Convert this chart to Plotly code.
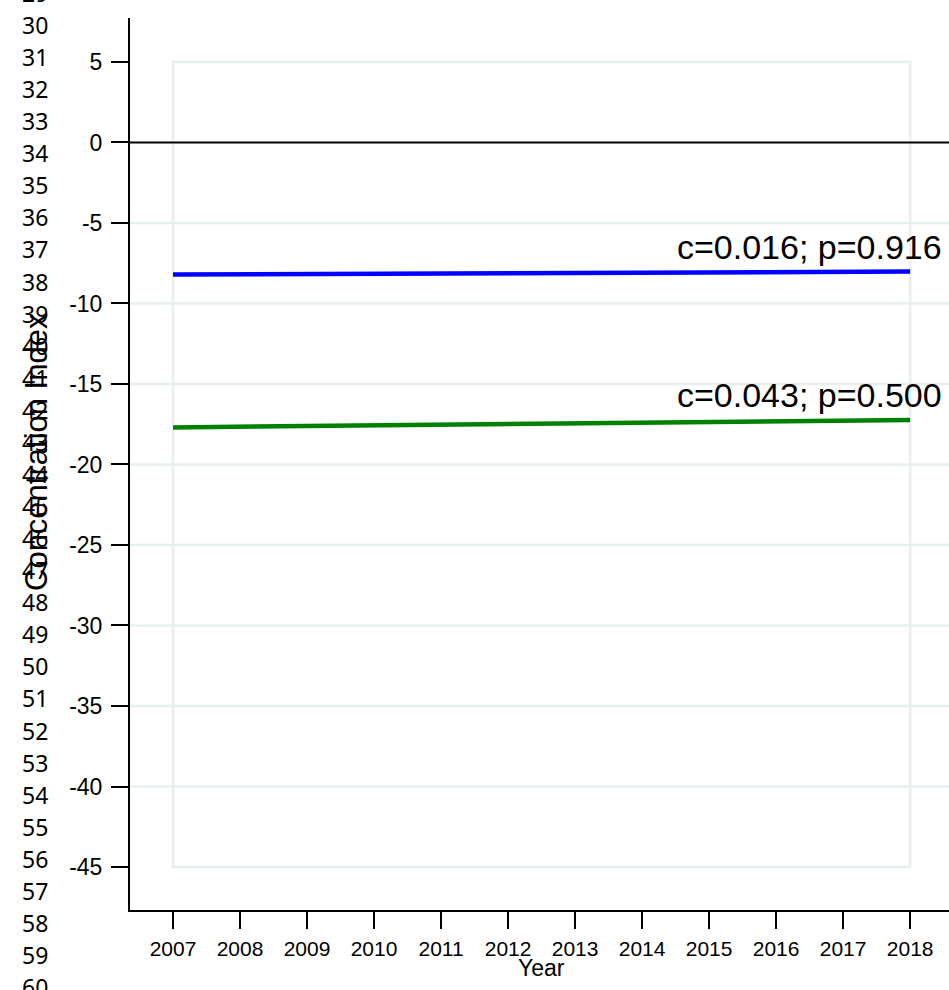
import plotly.graph_objects as go

# ---- data ----
years = list(range(2007, 2019))
fit_years = [2007, 2018]
blue_fit = [-8.20, -8.02]
green_fit = [-17.70, -17.23]
blue_label = "c=0.016; p=0.916"
green_label = "c=0.043; p=0.500"
y_ticks = [5, 0, -5, -10, -15, -20, -25, -30, -35, -40, -45]
grid_vals = [-5, -10, -15, -20, -25, -30, -35, -40]
line_numbers = list(range(29, 61))

W, H = 949, 990
L, R, T, B = 130, 0, 18, 80
plot_w = W - L - R
plot_h = H - T - B

def px_x(p):
    return (p - L) / plot_w

def px_y(p):
    return (H - B - p) / plot_h

fig = go.Figure()
fig.add_trace(go.Scatter(x=fit_years, y=blue_fit, mode="lines",
                         line=dict(color="#0000ff", width=4.5), showlegend=False))
fig.add_trace(go.Scatter(x=fit_years, y=green_fit, mode="lines",
                         line=dict(color="#008000", width=4.5), showlegend=False))

grid_col = "#e8eff0"
shapes = []
for v in grid_vals:
    shapes.append(dict(type="line", xref="paper", x0=0, x1=1, yref="y", y0=v, y1=v,
                       line=dict(color=grid_col, width=2.5), layer="below"))
shapes.append(dict(type="rect", xref="x", yref="y", x0=years[0], x1=years[-1],
                   y0=y_ticks[-1], y1=y_ticks[0],
                   line=dict(color=grid_col, width=2.5), layer="below"))
shapes.append(dict(type="line", xref="paper", x0=0, x1=1, yref="y", y0=0, y1=0,
                   line=dict(color="black", width=2), layer="above"))

ann = []
for val, lab in ((blue_fit[-1], blue_label), (green_fit[-1], green_label)):
    ann.append(dict(x=years[-1] + 0.5, y=val, xref="x", yref="y", text=lab,
                    showarrow=False, xanchor="right", yanchor="bottom", yshift=4,
                    font=dict(family="Liberation Sans, Arial", size=34, color="black")))
for n in line_numbers:
    ann.append(dict(x=px_x(35), y=px_y(25 + (n - 30) * 32.07), xref="paper", yref="paper",
                    text=str(n), showarrow=False, xanchor="center", yanchor="middle",
                    font=dict(family="Noto Sans", size=23, color="black")))
ann.append(dict(x=px_x(37), y=px_y(452), xref="paper", yref="paper",
                text="Concentration Index", textangle=-90, showarrow=False,
                xanchor="center", yanchor="middle",
                font=dict(family="Liberation Sans, Arial", size=31, color="black")))
ann.append(dict(x=(years[0] + years[-1]) / 2, y=px_y(968), xref="x", yref="paper",
                text="Year", showarrow=False, xanchor="center", yanchor="middle",
                font=dict(family="Liberation Sans, Arial", size=23, color="black")))

fig.update_layout(
    width=W, height=H,
    margin=dict(l=L, r=R, t=T, b=B, pad=0),
    paper_bgcolor="white", plot_bgcolor="white",
    shapes=shapes, annotations=ann,
    xaxis=dict(range=[2006.358, 2018.58], tickvals=years, ticktext=[str(y) for y in years],
               showgrid=False, zeroline=False, showline=True, linecolor="black", linewidth=2,
               ticks="outside", ticklen=17, tickwidth=2, tickcolor="black",
               ticklabelstandoff=2,
               tickfont=dict(family="Liberation Sans, Arial", size=21, color="black")),
    yaxis=dict(range=[-47.67, 7.73], tickvals=y_ticks, ticktext=[str(v) for v in y_ticks],
               showgrid=False, zeroline=False, showline=True, linecolor="black", linewidth=2,
               ticks="outside", ticklen=17, tickwidth=2, tickcolor="black",
               ticklabelstandoff=4,
               tickfont=dict(family="Liberation Sans, Arial", size=23, color="black")),
)

fig.write_html("out.html")
